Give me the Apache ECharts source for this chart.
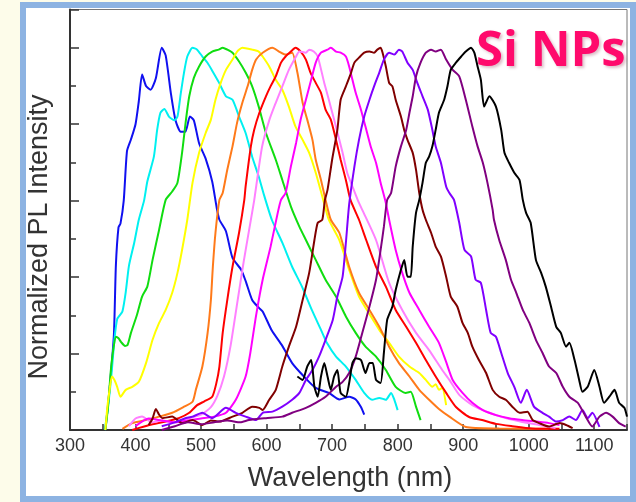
<!DOCTYPE html>
<html>
<head>
<meta charset="utf-8">
<script src="https://cdn.jsdelivr.net/npm/echarts@6/dist/echarts.min.js"></script>
<style>
  html, body { margin: 0; padding: 0; background: #fdfcea; overflow: hidden; }
  #frame { position: absolute; left: 20px; top: 2px; width: 604px; height: 488px;
           border: 6px solid #8db3e2; background: #fff; }
  #chart { position: absolute; left: 0; top: 0; width: 636px; height: 502px; }
</style>
</head>
<body>
<div id="frame"></div>
<div id="chart"></div>
<script>
// Normalized photoluminescence spectra of Si nanoparticles, [wavelength nm, intensity]
const blueSpectrum = [[354,0],[360,0.1],[367,0.25],[370,0.43],[374,0.53],[377,0.54],[382,0.6],[387,0.73],[393,0.76],[400,0.8],[405,0.86],[410,0.93],[416,0.9],[423,0.89],[431,0.92],[440,1.0],[446,0.98],[454,0.88],[461,0.81],[469,0.78],[476,0.78],[483,0.82],[489,0.81],[497,0.75],[507,0.71],[517,0.65],[524,0.58],[528,0.55],[538,0.52],[548,0.45],[561,0.42],[568,0.39],[578,0.34],[588,0.32],[594,0.31],[608,0.26],[624,0.22],[639,0.175],[657,0.14],[675,0.11],[695,0.097],[711,0.08],[726,0.087],[736,0.08],[744,0.06],[749,0.04]];
const cyanSpectrum = [[353,0],[358,0.06],[363,0.14],[368,0.24],[372,0.29],[376,0.3],[380,0.31],[385,0.36],[390,0.43],[398,0.49],[405,0.55],[413,0.6],[418,0.65],[428,0.715],[433,0.785],[438,0.83],[444,0.84],[451,0.82],[459,0.81],[464,0.82],[469,0.88],[474,0.935],[479,0.977],[487,1.0],[494,0.995],[502,0.977],[510,0.96],[517,0.94],[527,0.91],[538,0.873],[548,0.864],[558,0.82],[568,0.777],[578,0.715],[588,0.663],[596,0.615],[608,0.55],[624,0.49],[639,0.427],[654,0.375],[669,0.314],[683,0.262],[692,0.228],[706,0.192],[721,0.166],[736,0.131],[749,0.097],[761,0.079],[772,0.084],[782,0.079],[790,0.097],[795,0.079],[800,0.052]];
const greenSpectrum = [[354,0],[358,0.06],[362,0.15],[366,0.21],[370,0.244],[374,0.24],[378,0.23],[384,0.22],[388,0.223],[393,0.254],[402,0.3],[410,0.349],[418,0.375],[426,0.445],[436,0.524],[446,0.602],[456,0.624],[464,0.647],[471,0.725],[477,0.812],[482,0.873],[489,0.921],[497,0.951],[507,0.977],[517,0.99],[527,0.995],[533,1.0],[540,0.995],[548,0.987],[558,0.964],[568,0.935],[578,0.899],[588,0.846],[599,0.777],[614,0.707],[624,0.654],[637,0.585],[650,0.532],[660,0.497],[675,0.445],[690,0.393],[706,0.349],[721,0.297],[736,0.254],[751,0.218],[767,0.192],[782,0.157],[797,0.113],[812,0.097],[820,0.1],[828,0.061],[835,0.026]];
const yellowSpectrum = [[354,0],[357,0.06],[360,0.1],[364,0.14],[368,0.13],[372,0.113],[377,0.087],[385,0.105],[395,0.113],[405,0.126],[416,0.175],[426,0.236],[436,0.28],[446,0.314],[456,0.359],[464,0.411],[471,0.471],[479,0.55],[487,0.647],[497,0.725],[507,0.777],[515,0.812],[522,0.864],[530,0.908],[538,0.942],[548,0.969],[555,0.99],[563,1.0],[578,0.995],[588,0.99],[594,0.977],[604,0.951],[614,0.916],[624,0.89],[634,0.846],[644,0.794],[655,0.759],[665,0.725],[675,0.673],[685,0.611],[695,0.55],[711,0.497],[726,0.419],[741,0.349],[756,0.306],[772,0.262],[787,0.228],[802,0.192],[818,0.166],[833,0.149],[843,0.131],[853,0.113],[858,0.12],[863,0.105],[868,0.11],[874,0.065]];
const orangeSpectrum = [[380,0.003],[395,0.018],[416,0.026],[436,0.035],[456,0.045],[474,0.061],[487,0.074],[492,0.105],[502,0.166],[510,0.254],[515,0.34],[518,0.427],[522,0.516],[528,0.602],[533,0.62],[540,0.681],[548,0.742],[555,0.804],[563,0.856],[571,0.899],[578,0.942],[584,0.969],[594,0.987],[609,1.0],[619,0.99],[629,0.982],[639,0.987],[647,0.935],[655,0.856],[662,0.812],[670,0.759],[675,0.707],[683,0.654],[690,0.602],[698,0.55],[711,0.516],[726,0.427],[741,0.359],[757,0.314],[772,0.27],[787,0.218],[802,0.175],[818,0.14],[833,0.105],[848,0.079],[863,0.055],[879,0.035],[904,0.008],[955,0.004],[1030,0.003]];
const redSpectrum = [[395,0],[421,0.013],[446,0.022],[466,0.031],[482,0.045],[494,0.065],[505,0.075],[517,0.087],[523,0.12],[528,0.166],[533,0.254],[540,0.34],[548,0.427],[558,0.516],[566,0.602],[568,0.637],[576,0.742],[581,0.785],[589,0.83],[599,0.873],[606,0.899],[614,0.925],[622,0.961],[629,0.977],[637,0.99],[644,1.0],[652,0.99],[660,0.969],[667,0.935],[675,0.908],[683,0.882],[690,0.838],[698,0.812],[706,0.759],[713,0.707],[721,0.654],[728,0.602],[741,0.55],[752,0.497],[767,0.427],[782,0.375],[797,0.314],[813,0.27],[828,0.228],[843,0.183],[858,0.14],[874,0.097],[889,0.06],[909,0.034],[929,0.026],[950,0.016],[975,0.01],[1005,0.004],[1047,0.003]];
const pinkSpectrum = [[390,0.01],[400,0.03],[410,0.035],[425,0.02],[440,0.025],[460,0.02],[480,0.03],[500,0.04],[515,0.06],[525,0.09],[535,0.14],[545,0.22],[555,0.33],[565,0.44],[574,0.53],[581,0.6],[593,0.74],[604,0.81],[614,0.856],[624,0.899],[634,0.942],[645,0.977],[650,0.99],[660,0.987],[665,0.995],[672,0.99],[678,0.977],[688,0.908],[695,0.864],[703,0.812],[711,0.759],[716,0.725],[723,0.673],[731,0.637],[739,0.602],[746,0.576],[767,0.497],[787,0.385],[807,0.314],[828,0.254],[848,0.209],[868,0.157],[879,0.131],[894,0.092],[914,0.065],[940,0.045],[965,0.031],[990,0.021],[1016,0.013],[1041,0.005]];
const magentaSpectrum = [[400,0.01],[420,0.03],[440,0.025],[460,0.02],[480,0.025],[500,0.03],[520,0.035],[538,0.045],[553,0.079],[568,0.14],[575,0.2],[584,0.3],[594,0.393],[606,0.479],[617,0.568],[622,0.602],[629,0.62],[637,0.689],[645,0.751],[652,0.812],[660,0.864],[668,0.916],[675,0.961],[683,0.987],[693,0.995],[698,1.0],[706,0.99],[713,0.987],[721,0.977],[726,0.951],[731,0.916],[736,0.882],[744,0.838],[751,0.793],[759,0.741],[767,0.699],[774,0.647],[782,0.594],[787,0.55],[797,0.471],[807,0.411],[818,0.359],[833,0.314],[848,0.27],[863,0.228],[874,0.178],[884,0.131],[899,0.097],[914,0.071],[930,0.052],[950,0.039],[970,0.031],[990,0.026],[1011,0.022],[1031,0.018],[1047,0.013]];
const brownSpectrum = [[420,0.013],[426,0.03],[431,0.055],[436,0.04],[441,0.031],[456,0.035],[471,0.018],[487,0.026],[502,0.013],[515,0.025],[528,0.022],[548,0.035],[563,0.045],[578,0.061],[589,0.058],[594,0.052],[604,0.079],[614,0.105],[624,0.166],[634,0.218],[645,0.27],[655,0.34],[665,0.411],[673,0.497],[678,0.542],[685,0.55],[689,0.602],[693,0.628],[700,0.707],[708,0.785],[713,0.864],[721,0.899],[729,0.935],[734,0.961],[741,0.974],[749,0.987],[757,0.99],[764,0.987],[769,0.995],[774,1.0],[777,0.987],[782,0.951],[787,0.908],[792,0.899],[797,0.864],[805,0.82],[810,0.785],[815,0.759],[823,0.725],[828,0.681],[833,0.62],[838,0.576],[843,0.55],[851,0.516],[858,0.48],[866,0.454],[874,0.401],[881,0.349],[891,0.323],[899,0.28],[907,0.254],[914,0.218],[924,0.183],[935,0.149],[945,0.105],[955,0.087],[965,0.079],[975,0.061],[986,0.045],[998,0.048],[1006,0.026],[1016,0.018],[1031,0.009],[1047,0.018],[1057,0.013],[1067,0.005]];
const violetSpectrum = [[440,0.01],[460,0.02],[475,0.03],[487,0.035],[502,0.045],[517,0.031],[538,0.058],[553,0.045],[568,0.035],[584,0.026],[594,0.045],[609,0.048],[624,0.061],[639,0.079],[650,0.097],[660,0.131],[670,0.157],[680,0.192],[690,0.236],[701,0.288],[708,0.349],[716,0.401],[721,0.49],[726,0.59],[734,0.689],[741,0.759],[749,0.82],[757,0.864],[764,0.899],[772,0.935],[779,0.969],[787,0.987],[795,0.982],[802,0.995],[807,0.99],[815,0.961],[823,0.942],[830,0.908],[838,0.873],[846,0.838],[853,0.785],[858,0.742],[866,0.699],[874,0.637],[879,0.62],[886,0.602],[894,0.542],[902,0.471],[912,0.454],[919,0.393],[927,0.385],[935,0.314],[942,0.254],[950,0.244],[958,0.202],[968,0.149],[978,0.113],[988,0.071],[997,0.105],[1008,0.061],[1021,0.045],[1031,0.035],[1042,0.022],[1052,0.026],[1062,0.035],[1072,0.026],[1082,0.052],[1090,0.031],[1097,0.045],[1108,0.008]];
const purpleSpectrum = [[440,0.0],[460,0.01],[480,0.02],[500,0.015],[520,0.02],[540,0.025],[560,0.02],[573,0.026],[599,0.031],[624,0.035],[639,0.045],[660,0.058],[675,0.071],[690,0.087],[706,0.113],[716,0.126],[726,0.149],[736,0.192],[746,0.254],[757,0.323],[767,0.393],[774,0.471],[779,0.532],[784,0.602],[790,0.62],[797,0.689],[805,0.742],[813,0.785],[818,0.83],[823,0.873],[828,0.925],[835,0.961],[843,0.987],[851,0.995],[858,0.99],[866,0.995],[874,0.969],[884,0.942],[894,0.925],[904,0.864],[914,0.794],[922,0.742],[930,0.699],[937,0.647],[945,0.576],[947,0.55],[955,0.497],[965,0.445],[973,0.393],[981,0.359],[991,0.314],[1001,0.28],[1011,0.236],[1021,0.202],[1031,0.166],[1042,0.149],[1052,0.113],[1062,0.087],[1075,0.071],[1087,0.035],[1097,0.009],[1108,0.035],[1118,0.045],[1128,0.035],[1138,0.018],[1148,0.009]];
const blackSpectrum = [[647,0.14],[655,0.131],[662,0.166],[668,0.183],[673,0.113],[678,0.087],[683,0.14],[688,0.175],[693,0.14],[698,0.105],[703,0.14],[708,0.157],[713,0.097],[721,0.087],[726,0.123],[731,0.175],[736,0.188],[744,0.183],[751,0.149],[757,0.175],[762,0.175],[767,0.131],[774,0.123],[779,0.202],[784,0.288],[792,0.323],[797,0.366],[805,0.419],[810,0.445],[815,0.401],[820,0.401],[823,0.48],[828,0.568],[833,0.602],[838,0.647],[843,0.699],[848,0.715],[853,0.742],[858,0.785],[863,0.83],[871,0.864],[876,0.899],[881,0.942],[889,0.961],[897,0.977],[904,0.99],[912,1.0],[917,0.987],[922,0.951],[927,0.916],[932,0.846],[940,0.873],[950,0.846],[958,0.785],[963,0.725],[970,0.699],[978,0.673],[986,0.654],[991,0.602],[996,0.568],[1003,0.542],[1011,0.445],[1019,0.411],[1026,0.375],[1034,0.323],[1042,0.27],[1049,0.254],[1057,0.218],[1062,0.228],[1070,0.183],[1077,0.131],[1082,0.1],[1090,0.113],[1100,0.157],[1108,0.113],[1115,0.071],[1123,0.087],[1131,0.105],[1138,0.071],[1146,0.058],[1150,0.035]];

const spectra = [
  { data: blueSpectrum,    color: '#1010f0' },
  { data: cyanSpectrum,    color: '#00f0f0' },
  { data: greenSpectrum,   color: '#10dd10' },
  { data: yellowSpectrum,  color: '#ffff00' },
  { data: orangeSpectrum,  color: '#ff7a1a' },
  { data: redSpectrum,     color: '#ff0000' },
  { data: pinkSpectrum,    color: '#ff80ff' },
  { data: magentaSpectrum, color: '#ff00ff' },
  { data: brownSpectrum,   color: '#800000' },
  { data: violetSpectrum,  color: '#8000ff' },
  { data: purpleSpectrum,  color: '#800080' },
  { data: blackSpectrum,   color: '#000000' }
];

const xTickLabels = [300, 400, 500, 600, 700, 800, 900, 1000, 1100];

const chart = echarts.init(document.getElementById('chart'), null, { renderer: 'canvas' });
const axisColor = '#333';

chart.setOption({
  animation: false,
  backgroundColor: 'transparent',
  grid: { left: 70, top: 9.5, right: 9, bottom: 72, show: true,
          borderColor: '#777', borderWidth: 1, backgroundColor: 'transparent' },
  xAxis: {
    type: 'value', min: 300, max: 1150, interval: 50,
    axisLine: { lineStyle: { color: axisColor, width: 2 } },
    axisTick: { inside: true, length: 6, lineStyle: { color: axisColor, width: 1.5 } },
    axisLabel: {
      margin: 7, color: '#333', fontSize: 18, fontFamily: 'Liberation Sans',
      formatter: v => (xTickLabels.indexOf(v) >= 0 ? String(v) : '')
    },
    splitLine: { show: false }
  },
  yAxis: [
    {
      type: 'value', min: 0, max: 1.1, interval: 0.2,
      axisLine: { lineStyle: { color: axisColor, width: 2 } },
      axisTick: { inside: true, length: 9, lineStyle: { color: axisColor, width: 1.5 } },
      axisLabel: { show: false },
      splitLine: { show: false }
    },
    {
      type: 'value', min: 0, max: 1.1, interval: 0.1, position: 'left',
      axisLine: { show: false },
      axisTick: { inside: true, length: 6, lineStyle: { color: axisColor, width: 1.5 } },
      axisLabel: { show: false },
      splitLine: { show: false }
    }
  ],
  title: {
    text: 'Si NPs', left: 471, top: 23,
    textStyle: {
      fontFamily: 'Open Sans', fontWeight: 'bold', fontSize: 49, color: '#ff0a6c',
      textShadowColor: 'rgba(120,0,40,0.25)', textShadowOffsetX: 2, textShadowOffsetY: 2, textShadowBlur: 3
    }
  },
  graphic: [
    {
      type: 'text', x: 40, y: 237, rotation: Math.PI / 2,
      style: { text: 'Normalized PL Intensity', align: 'center', verticalAlign: 'middle',
               fontFamily: 'Liberation Sans', fontSize: 27, fill: '#333' }
    },
    {
      type: 'text', x: 350, y: 479,
      style: { text: 'Wavelength (nm)', align: 'center', verticalAlign: 'middle',
               fontFamily: 'Liberation Sans', fontSize: 27, fill: '#333' }
    }
  ],
  series: spectra.map(s => ({
    type: 'line', data: s.data, showSymbol: false, smooth: 0.2,
    lineStyle: { color: s.color, width: 2 }, itemStyle: { color: s.color },
    clip: true, silent: true
  }))
});
</script>
</body>
</html>
